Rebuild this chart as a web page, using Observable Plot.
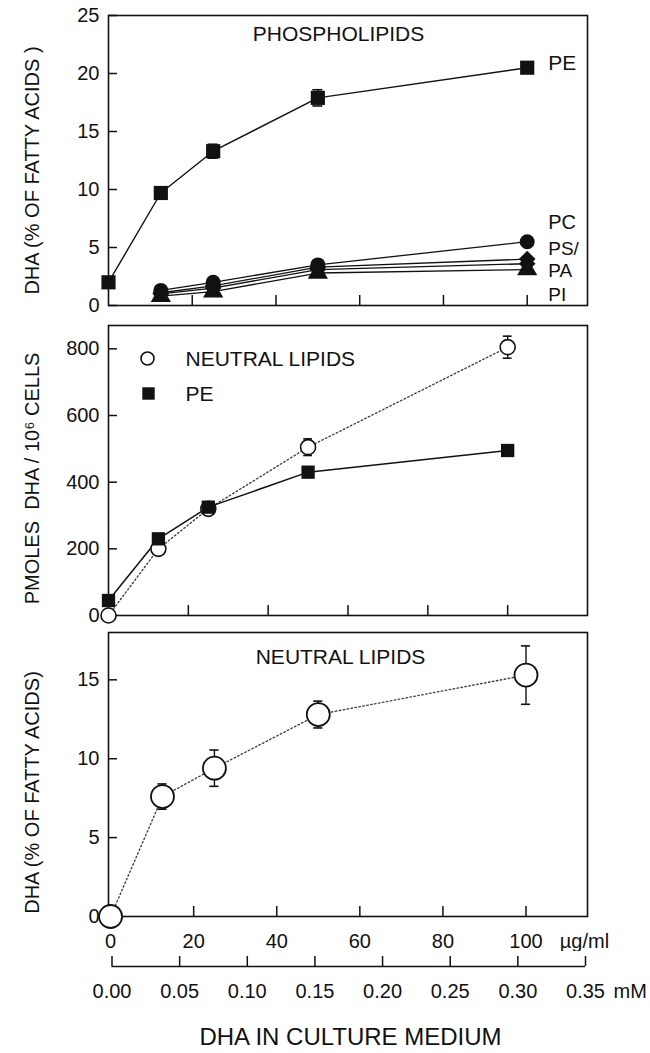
<!DOCTYPE html>
<html><head><meta charset="utf-8">
<script src="https://cdn.jsdelivr.net/npm/d3@7"></script>
<script src="https://cdn.jsdelivr.net/npm/@observablehq/plot@0.6"></script>
<style>
body{margin:0;background:#fff;}
#root{width:650px;background:#fff;color:#111;}
#root svg{display:block;}
</style></head><body><div id="root"></div>
<script>
// ---------- data ----------
const doses = [0, 12.5, 25, 50, 100];            // µg/ml
// Panel 1: phospholipids, DHA % of fatty acids
const phPE = [2.0, 9.7, 13.3, 17.9, 20.5];
const phPEerr = [0, 0, 0.6, 0.7, 0];
const phDoses = [12.5, 25, 50, 100];
const phSeries = ["PC", "PS", "PA", "PI"];
const phPC = [1.3, 2.0, 3.5, 5.5];
const phPS = [1.1, 1.7, 3.3, 4.0];
const phPA = [1.0, 1.5, 3.1, 3.6];
const phPI = [0.8, 1.2, 2.8, 3.1];
const phSymbols = ["circle", "diamond2", "diamond2", "triangle"];
const phLabels = ["PE", "PC", "PS/", "PA", "PI"];
const phLabelY = [20.9, 7.16, 4.85, 3.0, 0.95];
const phLabelSize = [21, 20, 19, 19, 19];
const phLabelX = 100;
// Panel 2: pmoles DHA / 10^6 cells
const pmolNL = [0, 200, 320, 505, 805];
const pmolNLerr = [0, 0, 0, 25, 33];
const pmolPE = [45, 230, 325, 430, 495];
const legendLabels = ["NEUTRAL LIPIDS", "PE"];
// Panel 3: neutral lipids, DHA % of fatty acids
const nlPct = [0, 7.6, 9.4, 12.8, 15.3];
const nlPctErr = [0, 0.8, 1.15, 0.85, 1.85];
// ticks
const xTicks = [20, 40, 60, 80, 100];
const xLabels = [0, 20, 40, 60, 80, 100];
const yLabels1 = [0, 5, 10, 15, 20, 25];
const yLabels2 = [0, 200, 400, 600, 800];
const yLabels3 = [0, 5, 10, 15];
const mMTicks = [0, 0.05, 0.10, 0.15, 0.20, 0.25, 0.30, 0.35];
const xTitle = "DHA IN CULTURE MEDIUM";

// ---------- helpers ----------
const root = document.getElementById("root");
const W = 650, ML = 108, MR = 63;
const plotW = W - ML - MR;
const INK = "#111";
const FONT = '"Liberation Sans", Arial, Helvetica, sans-serif';
const style = {fontFamily: FONT, fontSize: "20px", color: INK};
function errMarks(rows, cap) {
  const r = rows.filter(d => d.e > 0);
  return [
    Plot.ruleX(r, {x: "x", y1: d => d.y - d.e, y2: d => d.y + d.e, stroke: INK, strokeWidth: 1.4}),
    Plot.ruleY(r, {y: d => d.y + d.e, x1: d => d.x - cap, x2: d => d.x + cap, stroke: INK, strokeWidth: 1.6}),
    Plot.ruleY(r, {y: d => d.y - d.e, x1: d => d.x - cap, x2: d => d.x + cap, stroke: INK, strokeWidth: 1.6})
  ];
}
// inward ticks: pixel lengths converted to data units of each scale
function tickMarks(xd, yd, plotH, xt, yt) {
  const kx = 9 * (xd[1] - xd[0]) / plotW;
  const ky = 10 * (yd[1] - yd[0]) / plotH;
  const yRows = yt.map(v => ({y: v, x1: xd[0], x2: xd[0] + kx}));
  const xRows = xt.map(v => ({x: v, y1: yd[0], y2: yd[0] + ky}));
  return [
    Plot.ruleY(yRows, {y: "y", x1: "x1", x2: "x2", stroke: INK, strokeWidth: 1.5}),
    Plot.ruleX(xRows, {x: "x", y1: "y1", y2: "y2", stroke: INK, strokeWidth: 1.5})
  ];
}

// ---------- panel 1 ----------
{
  const MT = 15, MB = 10, plotH = 290, H = MT + plotH + MB;
  const xd = [0, 114.4], yd = [0, 25];
  const peRows = doses.map((x, i) => ({x, y: phPE[i], e: phPEerr[i]}));
  const vals = [phPC, phPS, phPA, phPI];
  const other = phSeries.flatMap((s, k) => phDoses.map((x, i) => ({s, x, y: vals[k][i], sym: phSymbols[k]})));
  const labRows = phLabels.map((t, i) => ({t, x: phLabelX, y: phLabelY[i], fs: phLabelSize[i]}));
  root.appendChild(Plot.plot({
    className: "pnl1",
    width: W, height: H, marginLeft: ML, marginRight: MR, marginTop: MT, marginBottom: MB,
    style,
    x: {domain: xd, axis: null},
    y: {domain: yd, axis: null},
    marks: [
      Plot.frame({stroke: INK, strokeWidth: 1.6}),
      ...tickMarks(xd, yd, plotH, xTicks, yLabels1),
      Plot.axisY({ticks: yLabels1, tickSize: 0, tickPadding: 9, label: null}),
      Plot.line(other, {x: "x", y: "y", z: "s", stroke: INK, strokeWidth: 1.3}),
      Plot.dot(other, {x: "x", y: "y", symbol: "sym", r: 7.5, fill: INK}),
      Plot.line(peRows, {x: "x", y: "y", stroke: INK, strokeWidth: 1.4}),
      ...errMarks(peRows, 1.2),
      Plot.dot(peRows, {x: "x", y: "y", symbol: "square", r: 8, fill: INK}),
      ...labRows.map(d => Plot.text([d], {x: "x", y: "y", text: "t", dx: 21, textAnchor: "start", fontSize: d.fs, fill: INK})),
      Plot.text(["PHOSPHOLIPIDS"], {frameAnchor: "top", dx: -9.5, dy: 19, lineAnchor: "middle", fontSize: 21, fill: INK}),
      Plot.text(["DHA (% OF FATTY ACIDS )"], {frameAnchor: "left", rotate: -90, dx: -75.5, dy: 10, lineAnchor: "middle", textAnchor: "middle", fontSize: 20, fill: INK})
    ]
  }));
}

// ---------- panel 2 ----------
{
  const MT = 10, MB = 10, plotH = 290, H = MT + plotH + MB;
  const xd = [0, 120], yd = [0, 870];
  const nlRows = doses.map((x, i) => ({x, y: pmolNL[i], e: pmolNLerr[i]}));
  const peRows = doses.map((x, i) => ({x, y: pmolPE[i]}));
  root.appendChild(Plot.plot({
    className: "pnl2",
    width: W, height: H, marginLeft: ML, marginRight: MR, marginTop: MT, marginBottom: MB,
    style,
    x: {domain: xd, axis: null},
    y: {domain: yd, axis: null},
    marks: [
      Plot.frame({stroke: INK, strokeWidth: 1.6}),
      ...tickMarks(xd, yd, plotH, xTicks, yLabels2),
      Plot.axisY({ticks: yLabels2, tickSize: 0, tickPadding: 9, label: null}),
      Plot.line(nlRows, {x: "x", y: "y", stroke: "#444", strokeWidth: 1.4, strokeDasharray: "1.5,2.5"}),
      Plot.line(peRows, {x: "x", y: "y", stroke: INK, strokeWidth: 1.5}),
      ...errMarks(nlRows, 1.1),
      Plot.dot(nlRows, {x: "x", y: "y", r: 7.5, fill: "white", stroke: INK, strokeWidth: 1.6}),
      Plot.dot(peRows, {x: "x", y: "y", symbol: "square", r: 7.5, fill: INK}),
      Plot.dot([legendLabels[0]], {frameAnchor: "top-left", dx: 39, dy: 33, r: 6.5, fill: "white", stroke: INK, strokeWidth: 1.6}),
      Plot.dot([legendLabels[1]], {frameAnchor: "top-left", dx: 40, dy: 68, symbol: "square", r: 7, fill: INK}),
      Plot.text([legendLabels[0]], {frameAnchor: "top-left", dx: 77, dy: 34, textAnchor: "start", lineAnchor: "middle", fontSize: 21, fill: INK}),
      Plot.text([legendLabels[1]], {frameAnchor: "top-left", dx: 77, dy: 69, textAnchor: "start", lineAnchor: "middle", fontSize: 21, fill: INK}),
      Plot.text(["PMOLES  DHA / 10\u2076 CELLS"], {frameAnchor: "left", rotate: -90, dx: -75.5, dy: 8, lineAnchor: "middle", textAnchor: "middle", fontSize: 20, fill: INK})
    ]
  }));
}

// ---------- panel 3 ----------
{
  const MT = 7, MB = 35, plotH = 284, H = MT + plotH + MB;
  const xd = [-0.5, 114.8], yd = [0, 18];
  const rows = doses.map((x, i) => ({x, y: nlPct[i], e: nlPctErr[i]}));
  root.appendChild(Plot.plot({
    className: "pnl3",
    width: W, height: H, marginLeft: ML, marginRight: MR, marginTop: MT, marginBottom: MB,
    style,
    x: {domain: xd, axis: null},
    y: {domain: yd, axis: null},
    marks: [
      Plot.frame({stroke: INK, strokeWidth: 1.6}),
      ...tickMarks(xd, yd, plotH, xTicks, yLabels3),
      Plot.axisY({ticks: yLabels3, tickSize: 0, tickPadding: 9, label: null}),
      Plot.axisX({ticks: xLabels, tickSize: 0, tickPadding: 17, label: null}),
      Plot.text(["\u00b5g/ml"], {frameAnchor: "bottom-right", dx: -3, dy: 17, lineAnchor: "top", textAnchor: "middle", fontSize: 20, fill: INK}),
      Plot.line(rows, {x: "x", y: "y", stroke: "#444", strokeWidth: 1.4, strokeDasharray: "1.5,2.5"}),
      ...errMarks(rows, 1.1),
      Plot.dot(rows, {x: "x", y: "y", r: 11.5, fill: "white", stroke: INK, strokeWidth: 1.8}),
      Plot.text(["NEUTRAL LIPIDS"], {frameAnchor: "top", dx: -7.5, dy: 25, lineAnchor: "middle", fontSize: 21, fill: INK}),
      Plot.text(["DHA (% OF FATTY ACIDS)"], {frameAnchor: "left", rotate: -90, dx: -75.5, dy: 18, lineAnchor: "middle", textAnchor: "middle", fontSize: 20, fill: INK})
    ]
  }));
}

// ---------- mM axis + overall x title ----------
{
  const MT = 5, plotH = 10, H = 102, MB = H - MT - plotH;
  const xd = [0, 0.35], yd = [0, 1];
  const tickRows = mMTicks.map(v => ({x: v, y1: yd[0], y2: yd[1]}));
  root.appendChild(Plot.plot({
    className: "pnl4",
    width: W, height: H, marginLeft: 111.5, marginRight: 65, marginTop: MT, marginBottom: MB,
    style,
    x: {domain: xd, axis: null},
    y: {domain: yd, axis: null},
    marks: [
      Plot.ruleY([{y: yd[0], x1: xd[0], x2: xd[1]}], {y: "y", x1: "x1", x2: "x2", stroke: INK, strokeWidth: 1.6}),
      Plot.ruleX(tickRows, {x: "x", y1: "y1", y2: "y2", stroke: INK, strokeWidth: 1.5}),
      Plot.axisX({ticks: mMTicks, tickSize: 0, tickPadding: 17, tickFormat: d3.format(".2f"), label: null}),
      Plot.text(["mM"], {frameAnchor: "bottom-right", dx: 28, dy: 17, lineAnchor: "top", textAnchor: "start", fontSize: 20, fill: INK}),
      Plot.text([xTitle], {frameAnchor: "bottom", dx: 1.75, dy: 71, lineAnchor: "middle", textAnchor: "middle", fontSize: 24, fill: INK})
    ]
  }));
}
</script></body></html>
